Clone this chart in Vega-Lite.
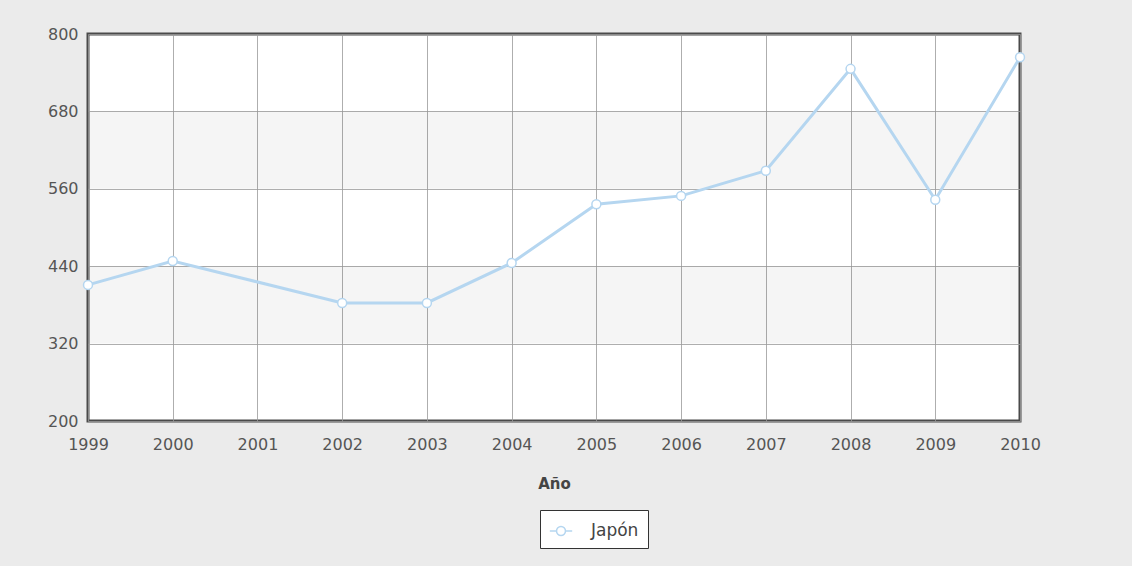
{
  "$schema": "https://vega.github.io/schema/vega-lite/v6.json",
  "autosize": "none",
  "width": 932,
  "height": 387,
  "padding": {"left": 88, "top": 34, "right": 112, "bottom": 145},
  "background": "#ebebeb",
  "datasets": {
    "serie": [
      {"anio": 1999, "valor": 411, "pais": "Japón"},
      {"anio": 2000, "valor": 448, "pais": "Japón"},
      {"anio": 2002, "valor": 383, "pais": "Japón"},
      {"anio": 2003, "valor": 383, "pais": "Japón"},
      {"anio": 2004, "valor": 445, "pais": "Japón"},
      {"anio": 2005, "valor": 536, "pais": "Japón"},
      {"anio": 2006, "valor": 549, "pais": "Japón"},
      {"anio": 2007, "valor": 588, "pais": "Japón"},
      {"anio": 2008, "valor": 746, "pais": "Japón"},
      {"anio": 2009, "valor": 543, "pais": "Japón"},
      {"anio": 2010, "valor": 764, "pais": "Japón"}
    ],
    "bandas": [
      {"desde": 560, "hasta": 680},
      {"desde": 320, "hasta": 440}
    ]
  },
  "config": {
    "view": {"fill": "white", "stroke": "#4a4a4a", "strokeWidth": 3},
    "font": "DejaVu Sans"
  },
  "layer": [
    {
      "data": {"name": "bandas"},
      "mark": {"type": "rect", "color": "#000000", "opacity": 0.04},
      "encoding": {
        "y": {"field": "desde", "type": "quantitative", "scale": {"domain": [200, 800]}},
        "y2": {"field": "hasta"}
      }
    },
    {
      "data": {"name": "serie"},
      "layer": [
        {
          "mark": {"type": "line", "strokeWidth": 3},
          "encoding": {
            "x": {
              "field": "anio", "type": "quantitative",
              "scale": {"domain": [1999, 2010], "nice": false, "zero": false},
              "axis": {
                "values": [1999, 2000, 2001, 2002, 2003, 2004, 2005, 2006, 2007, 2008, 2009, 2010],
                "format": "d", "title": "Año", "domain": false, "ticks": false,
                "grid": true, "gridColor": "#9a9a9a", "gridOpacity": 0.8, "gridWidth": 1,
                "labelFont": "DejaVu Sans", "labelFontSize": 16, "labelColor": "#555555",
                "labelPadding": 15, "labelFlush": false,
                "titleFont": "DejaVu Sans", "titleFontSize": 15, "titleFontWeight": "bold",
                "titleColor": "#444444", "titlePadding": 24
              }
            },
            "y": {
              "field": "valor", "type": "quantitative",
              "scale": {"domain": [200, 800], "nice": false, "zero": false},
              "axis": {
                "values": [200, 320, 440, 560, 680, 800], "title": null,
                "domain": false, "ticks": false,
                "grid": true, "gridColor": "#9a9a9a", "gridOpacity": 0.8, "gridWidth": 1,
                "labelFont": "DejaVu Sans", "labelFontSize": 16, "labelColor": "#555555",
                "labelPadding": 10, "labelFlush": false
              }
            },
            "color": {
              "field": "pais", "type": "nominal",
              "scale": {"range": ["#b5d6f0"]},
              "legend": {
                "title": null, "orient": "none", "legendX": 452, "legendY": 476,
                "fillColor": "white", "strokeColor": "#333333", "padding": 9,
                "symbolType": "M-1,0L-0.4,0M0.4,0L1,0M0.4,0A0.4,0.4 0 1,1 -0.4,0A0.4,0.4 0 1,1 0.4,0",
                "symbolSize": 500, "symbolStrokeWidth": 1.5, "symbolFillColor": "white",
                "labelFont": "DejaVu Sans", "labelFontSize": 17, "labelColor": "#444444",
                "labelOffset": 18
              }
            }
          }
        },
        {
          "mark": {"type": "point", "filled": false, "fill": "white", "fillOpacity": 1, "strokeWidth": 1.5, "size": 80, "opacity": 1},
          "encoding": {
            "x": {"field": "anio", "type": "quantitative"},
            "y": {"field": "valor", "type": "quantitative"},
            "color": {"field": "pais", "type": "nominal"}
          }
        }
      ]
    }
  ]
}
